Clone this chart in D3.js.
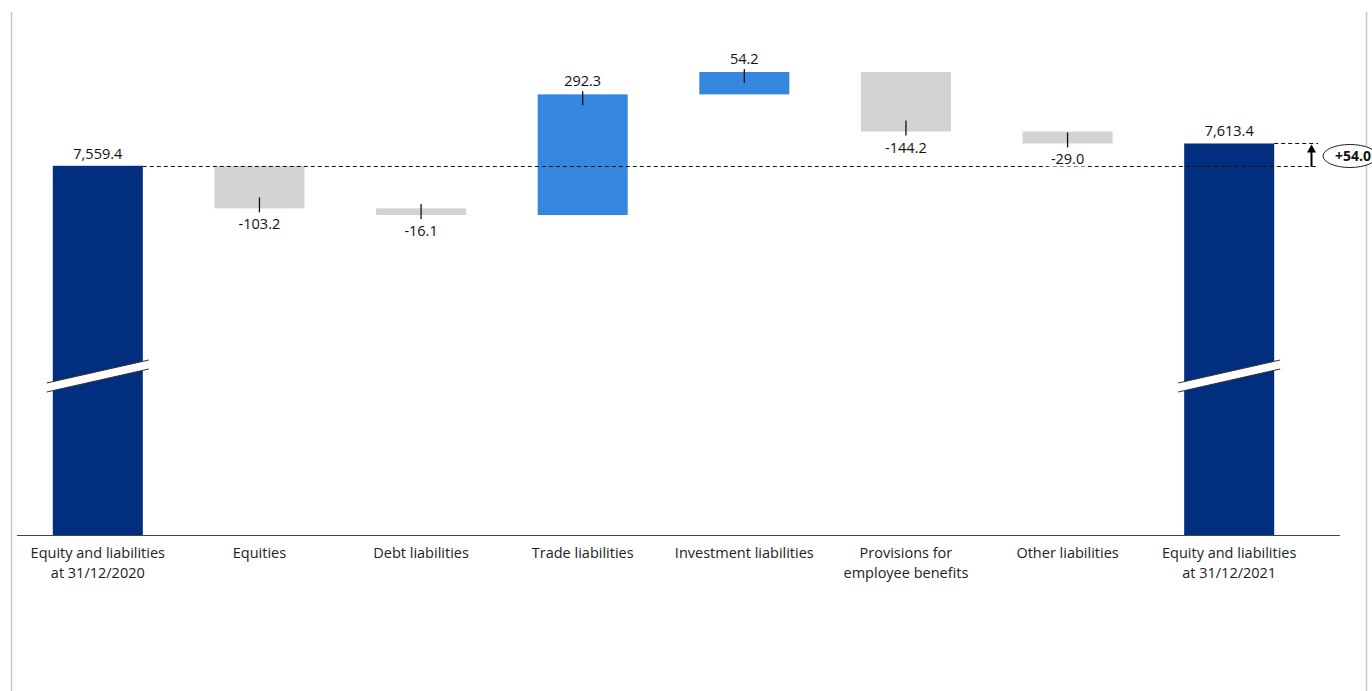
<!DOCTYPE html>
<html>
<head>
<meta charset="utf-8">
<script src="https://cdn.jsdelivr.net/npm/d3@7"></script>
<style>
  body { margin: 0; background: #fff; }
  svg { display: block; font-family: "Open Sans", sans-serif; }
</style>
</head>
<body>
<div id="chart"></div>
<script>
// categories and values
const categories = [
  ["Equity and liabilities", "at 31/12/2020"],
  ["Equities"],
  ["Debt liabilities"],
  ["Trade liabilities"],
  ["Investment liabilities"],
  ["Provisions for", "employee benefits"],
  ["Other liabilities"],
  ["Equity and liabilities", "at 31/12/2021"]
];
const values = [7559.4, -103.2, -16.1, 292.3, 54.2, -144.2, -29.0, 7613.4];
const kinds = ["total", "delta", "delta", "delta", "delta", "delta", "delta", "total"];
const changeLabel = "+54.0";

const W = 1372, H = 691;
const baseY = 535;

const svg = d3.select("#chart").append("svg")
  .attr("width", W).attr("height", H);

// frame lines
svg.append("line").attr("x1", 11.5).attr("x2", 11.5).attr("y1", 12).attr("y2", H)
  .attr("stroke", "#c8c8c8").attr("stroke-width", 1.5);
svg.append("line").attr("x1", 1366.5).attr("x2", 1366.5).attr("y1", 12).attr("y2", H)
  .attr("stroke", "#c8c8c8").attr("stroke-width", 1.5);

// build the waterfall steps
let running = 0;
const steps = values.map((v, i) => {
  let start, end;
  if (kinds[i] === "total") { start = null; end = v; running = v; }
  else { start = running; end = running + v; running = end; }
  return { i, v, start, end, kind: kinds[i] };
});

const x = d3.scaleBand().domain(d3.range(categories.length))
  .range([17, 1310]).paddingInner(0.443).paddingOuter(0.2215);

// axis is broken: the bottom of the range is cut
const y = d3.scaleLinear().domain([6665, 7786.6]).range([baseY, 72]);

const colorFor = d => d.kind === "total" ? "#022e80" : (d.v >= 0 ? "#3586de" : "#d3d3d3");

const g = svg.append("g");

g.selectAll("rect.bar").data(steps).enter().append("rect")
  .attr("class", "bar")
  .attr("x", d => x(d.i))
  .attr("width", x.bandwidth())
  .attr("y", d => d.kind === "total" ? y(d.end) : y(Math.max(d.start, d.end)))
  .attr("height", d => d.kind === "total" ? baseY - y(d.end) : Math.abs(y(d.start) - y(d.end)))
  .attr("fill", colorFor);

// break marks on total bars
steps.filter(d => d.kind === "total").forEach(d => {
  const x0 = x(d.i) - 6, x1 = x(d.i) + x.bandwidth() + 6;
  const cy = 376, slope = -11.5, th = 4.5;
  const pts = [[x0, cy - slope - th], [x1, cy + slope - th], [x1, cy + slope + th], [x0, cy - slope + th]];
  g.append("polygon").attr("points", pts.map(p => p.join(",")).join(" ")).attr("fill", "#fff");
  g.append("line").attr("x1", x0).attr("y1", cy - slope - th).attr("x2", x1).attr("y2", cy + slope - th)
    .attr("stroke", "#333").attr("stroke-width", 1);
  g.append("line").attr("x1", x0).attr("y1", cy - slope + th).attr("x2", x1).attr("y2", cy + slope + th)
    .attr("stroke", "#333").attr("stroke-width", 1);
});

// x axis line
svg.append("line").attr("x1", 17).attr("x2", 1340).attr("y1", baseY + 0.5).attr("y2", baseY + 0.5)
  .attr("stroke", "#444").attr("stroke-width", 1.2);

// category labels
const xl = svg.append("g").attr("font-size", 14.5).attr("fill", "#222").attr("text-anchor", "middle");
categories.forEach((lines, i) => {
  const t = xl.append("text").attr("x", x(i) + x.bandwidth() / 2).attr("y", 558);
  lines.forEach((s, k) => t.append("tspan").attr("x", x(i) + x.bandwidth() / 2).attr("dy", k ? 20 : 0).text(s));
});

// reference dashed lines
const first = steps[0], last = steps[steps.length - 1];
const dash = "4,3";
svg.append("line").attr("x1", x(0) + x.bandwidth()).attr("x2", 1318)
  .attr("y1", Math.round(y(first.end)) + 0.5).attr("y2", Math.round(y(first.end)) + 0.5)
  .attr("stroke", "#111").attr("stroke-dasharray", dash);
svg.append("line").attr("x1", x(7) + x.bandwidth()).attr("x2", 1318)
  .attr("y1", Math.round(y(last.end)) + 0.5).attr("y2", Math.round(y(last.end)) + 0.5)
  .attr("stroke", "#111").attr("stroke-dasharray", dash);

// value ticks and labels
const fmt = d3.formatLocale({ decimal: ".", thousands: ",", grouping: [3], currency: ["", ""], minus: "-" }).format(",.1f");
const lab = svg.append("g").attr("font-size", 14.5).attr("fill", "#111").attr("text-anchor", "middle");
steps.forEach(d => {
  const cx = x(d.i) + x.bandwidth() / 2;
  if (d.kind === "total") {
    lab.append("text").attr("x", cx).attr("y", y(d.end) - 7).text(fmt(d.v));
    return;
  }
  const up = d.v >= 0;
  const edge = y(d.end);
  if (up) {
    svg.append("line").attr("x1", cx).attr("x2", cx).attr("y1", edge - 3).attr("y2", edge + 11)
      .attr("stroke", "#111").attr("stroke-width", 1.3);
    lab.append("text").attr("x", cx).attr("y", edge - 8).text(fmt(d.v));
  } else {
    svg.append("line").attr("x1", cx).attr("x2", cx).attr("y1", edge - 11).attr("y2", edge + 4)
      .attr("stroke", "#111").attr("stroke-width", 1.3);
    const tw = 40;
    lab.append("rect").attr("x", cx - tw / 2).attr("y", edge + 7).attr("width", tw).attr("height", 16).attr("fill", "#fff");
    lab.append("text").attr("x", cx).attr("y", edge + 21).text(fmt(d.v));
  }
});

// change arrow
const ax = 1311.5;
svg.append("line").attr("x1", ax).attr("x2", ax).attr("y1", y(first.end) + 1).attr("y2", y(last.end) + 6)
  .attr("stroke", "#000").attr("stroke-width", 2);
svg.append("path")
  .attr("d", `M${ax - 4.5},${y(last.end) + 9} L${ax},${y(last.end) + 1} L${ax + 4.5},${y(last.end) + 9} Z`)
  .attr("fill", "#000");

// change badge
svg.append("ellipse").attr("cx", 1350).attr("cy", 156).attr("rx", 27).attr("ry", 11.5)
  .attr("fill", "#fff").attr("stroke", "#222").attr("stroke-width", 1);
svg.append("text").attr("x", 1353).attr("y", 161).attr("text-anchor", "middle")
  .attr("font-size", 14).attr("font-weight", "bold").attr("fill", "#111").text(changeLabel);
</script>
</body>
</html>
